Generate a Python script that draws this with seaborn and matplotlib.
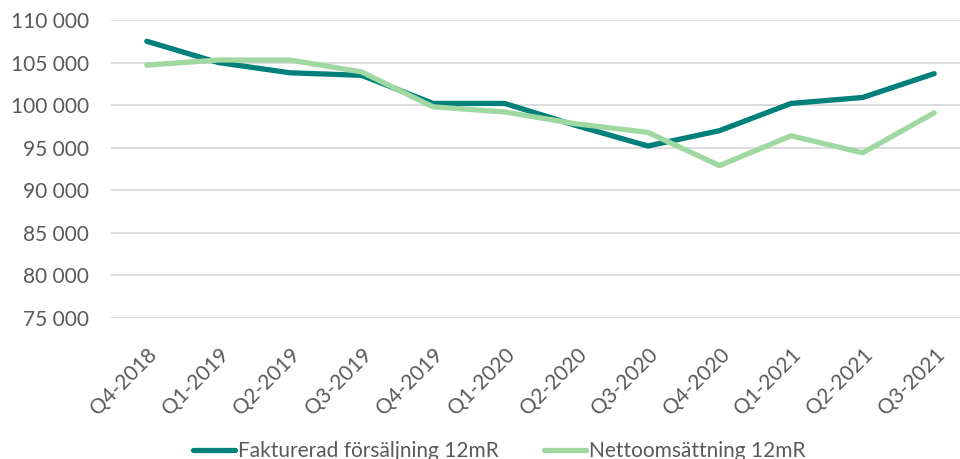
import pandas as pd
import numpy as np
import matplotlib
matplotlib.use('Agg')
import matplotlib.pyplot as plt
import seaborn as sns

quarters = ['Q4-2018', 'Q1-2019', 'Q2-2019', 'Q3-2019', 'Q4-2019', 'Q1-2020',
            'Q2-2020', 'Q3-2020', 'Q4-2020', 'Q1-2021', 'Q2-2021', 'Q3-2021']
fakturerad = [107500, 105000, 103800, 103500, 100200, 100200,
              97600, 95200, 97000, 100200, 100900, 103700]
netto = [104700, 105300, 105300, 103900, 99800, 99200,
         97800, 96800, 92900, 96400, 94400, 99100]
series_names = ['Fakturerad försäljning 12mR', 'Nettoomsättning 12mR']
y_ticks = [75000, 80000, 85000, 90000, 95000, 100000, 105000, 110000]

df = pd.DataFrame({
    'Kvartal': quarters * 2,
    'pos': list(range(len(quarters))) * 2,
    'Värde': fakturerad + netto,
    'Serie': [series_names[0]] * len(quarters) + [series_names[1]] * len(quarters),
})

sns.set_style('white')
plt.rcParams['font.family'] = ['Lato', 'DejaVu Sans']

fig = plt.figure(figsize = (9.6, 4.59), dpi = 100)
ax = fig.add_axes([111 / 960, 1 - 318 / 459, (970 - 111) / 960, (318 - 20) / 459])

palette = {series_names[0]: '#00807a', series_names[1]: '#9fd8a0'}
sns.lineplot(data = df, x = 'pos', y = 'Värde', hue = 'Serie', palette = palette,
             linewidth = 3.8, ax = ax, legend = True, zorder = 3)

ax.set_xlim(-0.5, len(quarters) - 0.5)
ax.set_ylim(75000, 110000)
ax.set_yticks(y_ticks)
ax.set_yticklabels([f'{v:,}'.replace(',', ' ') for v in y_ticks])
ax.set_xticks(range(len(quarters)))
ax.set_xticklabels(quarters, rotation = 45, ha = 'right', rotation_mode = 'anchor')
ax.tick_params(axis = 'both', length = 0, labelsize = 15, colors = '#595959')
ax.tick_params(axis = 'x', pad = 19)
ax.tick_params(axis = 'y', pad = 16)
ax.grid(axis = 'y', color = '#d9d9d9', linewidth = 1.3)
ax.grid(axis = 'x', visible = False)
for s in ax.spines.values():
    s.set_visible(False)
ax.set_xlabel('')
ax.set_ylabel('')

handles, labels = ax.get_legend_handles_labels()
ax.get_legend().remove()
fig.legend(handles, labels, loc = 'center', bbox_to_anchor = (0.52, 1 - 451 / 459),
           ncol = 2, frameon = False, fontsize = 15, handlelength = 2.0,
           handletextpad = 0.15, columnspacing = 2.2, labelcolor = '#595959')

fig.savefig('out.png', dpi = 100)
